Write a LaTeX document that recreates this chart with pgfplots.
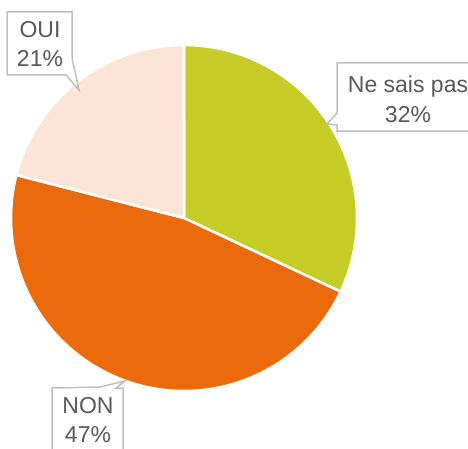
\documentclass[border=0pt]{standalone}
\usepackage{pgfplots}
\pgfplotsset{compat=1.18}
\usepackage{fontspec}
\setmainfont{Liberation Sans}
\definecolor{cgreen}{HTML}{C5CD26}
\definecolor{corange}{HTML}{EB6A0C}
\definecolor{cpeach}{HTML}{FCE4D6}
\definecolor{ctext}{HTML}{595959}
\definecolor{cbox}{HTML}{C0C0C0}
\begin{document}
\begin{tikzpicture}
\begin{axis}[
  x=1pt, y=1pt,
  xmin=-184, xmax=284, ymin=-230, ymax=218,
  hide axis,
  clip=true,
]
% Ne sais pas 32%  (90 -> -25.2)
\addplot[fill=cgreen, draw=white, line width=2.5pt, domain=90:-25.2, samples=120, variable=\t]
  ({173*cos(t)},{173*sin(t)}) -- (axis cs:0,0) -- cycle;
% NON 47%  (-25.2 -> -194.4)
\addplot[fill=corange, draw=white, line width=2.5pt, domain=-25.2:-194.4, samples=160, variable=\t]
  ({173*cos(t)},{173*sin(t)}) -- (axis cs:0,0) -- cycle;
% OUI 21%  (-194.4 -> -270)
\addplot[fill=cpeach, draw=white, line width=2.5pt, domain=-194.4:-270, samples=80, variable=\t]
  ({173*cos(t)},{173*sin(t)}) -- (axis cs:0,0) -- cycle;

\tikzset{lbl/.style={anchor=base, text=ctext, inner sep=0pt, font=\fontsize{23}{29}\selectfont}}
% OUI callout
\draw[cbox, line width=1.5pt, fill=white, line join=miter]
  (axis cs:-177,206) -- (axis cs:-112,206) -- (axis cs:-112,160) -- (axis cs:-105,128)
  -- (axis cs:-118,143) -- (axis cs:-177,143) -- cycle;
\node[lbl] at (axis cs:-144,180) {OUI};
\node[lbl] at (axis cs:-144,151) {21\%};
% Ne sais pas callout
\draw[cbox, line width=1.5pt, fill=white, line join=miter]
  (axis cs:153,155) -- (axis cs:330,155) -- (axis cs:330,87) -- (axis cs:153,87)
  -- (axis cs:153,93) -- (axis cs:143,94) -- (axis cs:153,105) -- cycle;
\node[lbl] at (axis cs:224,125) {Ne sais pas};
\node[lbl] at (axis cs:224,96) {32\%};
% NON callout
\draw[cbox, line width=1.5pt, fill=white, line join=miter]
  (axis cs:-132,-170) -- (axis cs:-84,-169) -- (axis cs:-59,-163) -- (axis cs:-68,-170)
  -- (axis cs:-61,-170) -- (axis cs:-61,-280) -- (axis cs:-132,-280) -- cycle;
\node[lbl] at (axis cs:-96,-195) {NON};
\node[lbl] at (axis cs:-96,-224) {47\%};
\end{axis}
\pgfresetboundingbox
\useasboundingbox (current axis.south west) rectangle (current axis.north east);
\end{tikzpicture}
\end{document}
